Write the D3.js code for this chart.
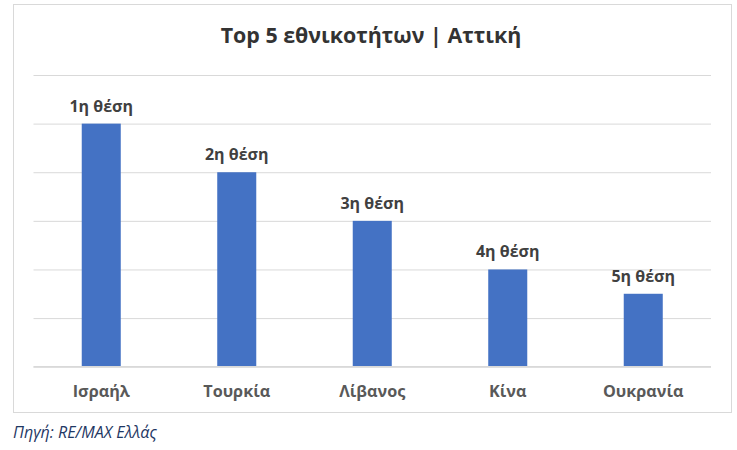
<!DOCTYPE html>
<html>
<head>
<meta charset="utf-8">
<script src="https://cdn.jsdelivr.net/npm/d3@7"></script>
<style>
  body { margin: 0; background: #fff; }
  svg { display: block; }
</style>
</head>
<body>
<svg id="chart" width="737" height="450"></svg>
<script>
const title = "Top 5 εθνικοτήτων | Αττική";
const categories = ["Ισραήλ", "Τουρκία", "Λίβανος", "Κίνα", "Ουκρανία"];
const values = [5, 4, 3, 2, 1.5];
const dataLabels = ["1η θέση", "2η θέση", "3η θέση", "4η θέση", "5η θέση"];
const yTicks = [0, 1, 2, 3, 4, 5, 6];
const source = "Πηγή: RE/MAX Ελλάς";

const svg = d3.select("#chart");
const font = "'Open Sans', 'Noto Sans', sans-serif";

// frame
svg.append("rect")
  .attr("x", 13.5).attr("y", 4.5)
  .attr("width", 718).attr("height", 408)
  .attr("fill", "#fff").attr("stroke", "#d9d9d9").attr("stroke-width", 1);

const plot = { left: 33.5, right: 711, top: 75, bottom: 366.7 };

const x = d3.scaleBand().domain(categories).range([plot.left, plot.right]).padding(0);
const y = d3.scaleLinear().domain([0, 6]).range([plot.bottom, plot.top]);
const barW = x.bandwidth() * 0.288;

// gridlines
const yAxis = d3.axisLeft(y).tickValues(yTicks).tickSize(-(plot.right - plot.left)).tickFormat("");
const gy = svg.append("g").attr("transform", `translate(${plot.left},0)`).call(yAxis);
gy.select(".domain").remove();
gy.selectAll(".tick line").attr("stroke", "#d9d9d9").attr("stroke-width", 1);

// bars
svg.append("g").selectAll("rect").data(categories).join("rect")
  .attr("x", (d) => x(d) + x.bandwidth() / 2 - barW / 2)
  .attr("y", (d, i) => y(values[i]))
  .attr("width", barW)
  .attr("height", (d, i) => y(0) - y(values[i]))
  .attr("fill", "#4472c4");

// baseline
svg.append("line")
  .attr("x1", plot.left).attr("x2", plot.right)
  .attr("y1", y(0)).attr("y2", y(0))
  .attr("stroke", "#d9d9d9").attr("stroke-width", 1.5);

// data labels
svg.append("g").selectAll("text").data(categories).join("text")
  .attr("x", (d) => x(d) + x.bandwidth() / 2)
  .attr("y", (d, i) => y(values[i]) - 12)
  .attr("text-anchor", "middle")
  .attr("font-family", font).attr("font-weight", "bold").attr("font-size", 16)
  .attr("fill", "#404040")
  .text((d, i) => dataLabels[i]);

// x axis labels
const xAxis = d3.axisBottom(x).tickSize(0).tickPadding(0);
const gx = svg.append("g").attr("transform", `translate(0,${plot.bottom})`).call(xAxis);
gx.select(".domain").remove();
gx.selectAll(".tick text")
  .attr("y", 30).attr("dy", 0)
  .attr("font-family", font).attr("font-weight", "bold").attr("font-size", 16.2)
  .attr("fill", "#595959");

// title
svg.append("text")
  .attr("x", 371).attr("y", 43)
  .attr("text-anchor", "middle")
  .attr("font-family", font).attr("font-weight", "bold").attr("font-size", 21.4)
  .attr("fill", "#333333")
  .text(title);

// source
svg.append("text")
  .attr("x", 13).attr("y", 438)
  .attr("font-family", font).attr("font-style", "italic").attr("font-size", 16.1)
  .attr("fill", "#1f3864")
  .text(source);
</script>
</body>
</html>
